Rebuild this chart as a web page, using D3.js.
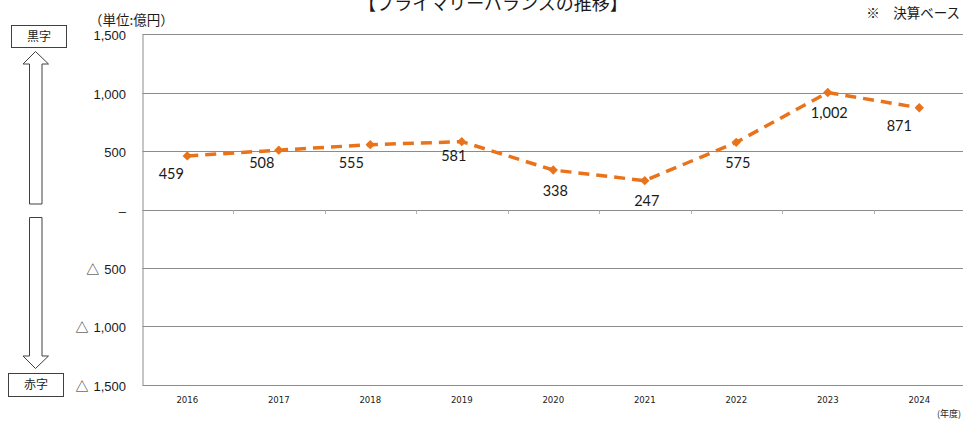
<!DOCTYPE html>
<html>
<head>
<meta charset="utf-8">
<script src="https://cdn.jsdelivr.net/npm/d3@7"></script>
<style>
  body { margin: 0; background: #fff; }
  svg { display: block; }
  text { fill: #1a1a1a; }
</style>
</head>
<body>
<svg></svg>
<script>
const years = ['2016', '2017', '2018', '2019', '2020', '2021', '2022', '2023', '2024'];
const balance = [459, 508, 555, 581, 338, 247, 575, 1002, 871];
const yTicks = [1500, 1000, 500, 0, -500, -1000, -1500];

// data label nudges (px) — the original has a few labels dragged by hand
const labelDx = [-16, -17, -19, -8, 2, 2, 1.5, 1.5, -20];
const labelDy = [18, 13, 18, 14, 21, 20, 20, 20, 18];

const W = 963, H = 421;
const plot = {l: 142.5, r: 965, t: 34.3, b: 384.7};

const svg = d3.select('svg')
    .attr('width', W)
    .attr('height', H);

const scaleX = d3.scaleBand()
    .domain(years)
    .range([plot.l - 1, plot.r]);

const scaleY = d3.scaleLinear()
    .domain([-1500, 1500])
    .range([plot.b, plot.t]);

const bw = scaleX.bandwidth();
const fmt = d3.format(',');
const cjk = '"Noto Sans CJK JP", "Noto Sans", sans-serif';

// gridlines (incl. top & bottom border)
svg.append('g')
    .selectAll('line')
    .data(yTicks)
    .join('line')
    .attr('x1', plot.l)
    .attr('x2', plot.r)
    .attr('y1', d => Math.round(scaleY(d)) + 0.5)
    .attr('y2', d => Math.round(scaleY(d)) + 0.5)
    .attr('stroke', '#8c8c8c')
    .attr('stroke-width', 1);

// left axis line
svg.append('line')
    .attr('x1', plot.l + 0.5).attr('x2', plot.l + 0.5)
    .attr('y1', Math.round(plot.t) + 0.5).attr('y2', Math.round(plot.b) + 0.5)
    .attr('stroke', '#8c8c8c');

// small ticks on the zero line at category borders
svg.append('g')
    .selectAll('line')
    .data(years.slice(1))
    .join('line')
    .attr('x1', d => Math.round(scaleX(d)) + 0.5)
    .attr('x2', d => Math.round(scaleX(d)) + 0.5)
    .attr('y1', Math.round(scaleY(0)) + 0.5)
    .attr('y2', Math.round(scaleY(0)) + 4)
    .attr('stroke', '#b0b0b0');

// y axis labels (negatives shown with a △ sign)
const axisYG = svg.append('g')
    .attr('transform', `translate(${plot.l}, 0)`)
    .call(d3.axisLeft(scaleY).tickValues(yTicks).tickFormat('').tickSize(0));
axisYG.select('.domain').remove();
axisYG.selectAll('.tick').each(function(v) {
    const t = d3.select(this).append('text')
        .attr('x', -16.5)
        .attr('y', 1.5)
        .attr('dy', '0.32em')
        .attr('text-anchor', 'end')
        .attr('font-family', '"Liberation Sans", Arial, sans-serif')
        .attr('font-size', 13)
        .attr('fill', '#1a1a1a');
    if (v < 0) {
        t.append('tspan').attr('font-family', cjk).attr('font-size', 13).text('△');
        t.append('tspan').attr('dx', 5).text(fmt(-v));
    } else {
        t.text(v === 0 ? '–' : fmt(v));
    }
});

// x axis labels
const axisXG = svg.append('g')
    .attr('transform', `translate(0, ${plot.b})`)
    .call(d3.axisBottom(scaleX).tickSize(0).tickPadding(12));
axisXG.select('.domain').remove();
axisXG.selectAll('text')
    .attr('font-family', '"Liberation Sans Narrow", "Arial Narrow", "DejaVu Sans Condensed", sans-serif')
    .attr('font-size', 9.5)
    .attr('fill', '#1a1a1a');

// series
const pts = years.map((y, i) => ({year: y, value: balance[i], i: i}));
const line = d3.line()
    .x(d => scaleX(d.year) + bw / 2)
    .y(d => scaleY(d.value));

svg.append('path')
    .datum(pts)
    .attr('d', line)
    .attr('fill', 'none')
    .attr('stroke', '#E8731A')
    .attr('stroke-width', 3.5)
    .attr('stroke-dasharray', '11,7');

svg.append('g')
    .selectAll('path')
    .data(pts)
    .join('path')
    .attr('d', d3.symbol(d3.symbolSquare, 44))
    .attr('transform', d => `translate(${scaleX(d.year) + bw / 2}, ${scaleY(d.value)}) rotate(45)`)
    .attr('fill', '#E8731A');

svg.append('g')
    .selectAll('text')
    .data(pts)
    .join('text')
    .attr('x', d => scaleX(d.year) + bw / 2 + labelDx[d.i])
    .attr('y', d => scaleY(d.value) + labelDy[d.i])
    .attr('dy', '0.36em')
    .attr('text-anchor', 'middle')
    .attr('font-family', 'Lato, "Open Sans", sans-serif')
    .attr('font-size', 14.5)
    .text(d => fmt(d.value));

// titles and notes
svg.append('text')
    .attr('x', 493).attr('y', 10)
    .attr('text-anchor', 'middle')
    .attr('font-family', cjk)
    .attr('font-size', 18)
    .text('【プライマリーバランスの推移】');

svg.append('text')
    .attr('x', 960).attr('y', 18)
    .attr('text-anchor', 'end')
    .attr('font-family', cjk)
    .attr('font-size', 13.5)
    .text('※　決算ベース');

svg.append('text')
    .attr('x', 89).attr('y', 25)
    .attr('font-family', cjk)
    .attr('font-size', 13.5)
    .text('（単位:億円）');

svg.append('text')
    .attr('x', 961).attr('y', 417)
    .attr('text-anchor', 'end')
    .attr('font-family', cjk)
    .attr('font-size', 9)
    .text('(年度)');

// surplus / deficit markers on the left
const boxes = [
    {label: '黒字', x: 11, y: 25, w: 55, h: 22},
    {label: '赤字', x: 8, y: 373, w: 55, h: 23}
];
const boxG = svg.append('g')
    .selectAll('g')
    .data(boxes)
    .join('g');
boxG.append('rect')
    .attr('x', d => d.x + 0.5).attr('y', d => d.y + 0.5)
    .attr('width', d => d.w).attr('height', d => d.h)
    .attr('fill', '#fff')
    .attr('stroke', '#404040');
boxG.append('text')
    .attr('x', d => d.x + d.w / 2 + 0.5)
    .attr('y', d => d.y + d.h / 2 + 0.5)
    .attr('dy', '0.36em')
    .attr('text-anchor', 'middle')
    .attr('font-family', cjk)
    .attr('font-size', 12)
    .text(d => d.label);

const arrowUp = [[35.5, 51.5], [48.5, 64], [42, 64], [42, 204], [29.5, 204], [29.5, 64], [23, 64]];
const arrowDown = [[29.5, 217.5], [42, 217.5], [42, 356], [48.5, 356], [35.5, 368.5], [23, 356], [29.5, 356]];
svg.append('g')
    .selectAll('polygon')
    .data([arrowUp, arrowDown])
    .join('polygon')
    .attr('points', d => d.map(p => p.join(',')).join(' '))
    .attr('fill', '#fff')
    .attr('stroke', '#404040')
    .attr('stroke-width', 1);
</script>
</body>
</html>
